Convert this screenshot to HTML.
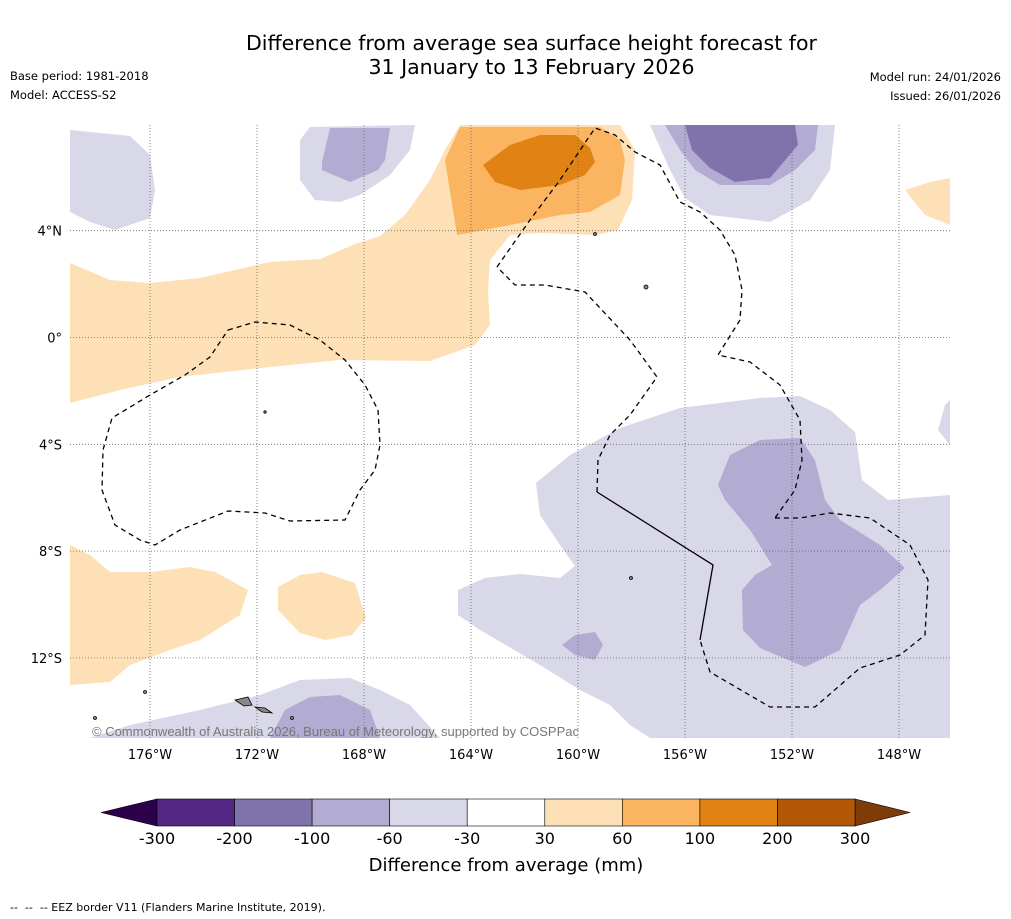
<!DOCTYPE html>
<html><head><meta charset="utf-8">
<style>
html,body{margin:0;padding:0;background:#fff;}
body{width:1011px;height:919px;position:relative;overflow:hidden;font-family:"DejaVu Sans","Liberation Sans",sans-serif;}
.t{position:absolute;color:#000;}
</style></head>
<body>
<div class="t" style="left:0;width:1063px;top:31px;text-align:center;font-size:20.5px;line-height:24px;">Difference from average sea surface height forecast for<br>31 January to 13 February 2026</div>
<div class="t" style="left:10px;top:69px;font-size:11.5px;">Base period: 1981-2018</div>
<div class="t" style="left:10px;top:88px;font-size:11.5px;">Model: ACCESS-S2</div>
<div class="t" style="right:10px;top:70px;font-size:11.5px;text-align:right;">Model run: 24/01/2026</div>
<div class="t" style="right:10px;top:89px;font-size:11.5px;text-align:right;">Issued: 26/01/2026</div>
<div class="t" style="left:10px;top:901px;font-size:11px;">-- &nbsp;-- &nbsp;-- EEZ border V11 (Flanders Marine Institute, 2019).</div>

<svg id="svg" width="1011" height="919" style="position:absolute;left:0;top:0;" xmlns="http://www.w3.org/2000/svg">
<defs><clipPath id="mapclip"><rect x="70" y="125" width="880" height="613"/></clipPath></defs>
<g id="map" clip-path="url(#mapclip)">
<rect x="70" y="125" width="880" height="613" fill="#fff"/>
<g stroke="none">
<polygon fill="#fee0b6" points="70,263 110,280 150,283 200,278 270,262 320,259 355,244 380,236 405,215 430,180 445,150 460,125 620,125 635,150 632,200 618,230 596,235 540,233 510,235 490,260 488,290 490,325 475,345 430,361 340,360 260,368 180,377 120,390 70,403"/>
<polygon fill="#fbb45f" points="457,235 445,160 460,127 600,127 620,140 625,160 620,195 590,212 560,215 510,225"/>
<polygon fill="#e08214" points="483,165 510,145 540,135 575,135 590,148 595,162 585,175 560,185 520,190 495,182"/>
<polygon fill="#fee0b6" points="905,190 930,182 950,178 950,225 925,215"/>
<polygon fill="#fee0b6" points="70,545 90,555 110,572 150,572 190,567 215,572 248,590 240,615 200,640 170,650 130,665 110,682 70,685"/>
<polygon fill="#fee0b6" points="278,587 300,575 322,572 355,583 366,618 352,635 325,640 300,633 278,610"/>
<polygon fill="#d8d8e9" points="70,130 130,136 150,155 155,190 150,218 115,230 90,222 70,212"/>
<polygon fill="#d8d8e9" points="300,140 310,127 415,125 410,150 390,175 360,195 340,202 315,200 300,180"/>
<polygon fill="#b2abd2" points="322,162 330,128 390,128 385,160 378,170 350,182 322,170"/>
<polygon fill="#d8d8e9" points="650,125 835,125 830,170 810,200 770,222 710,215 685,198 670,170"/>
<polygon fill="#b2abd2" points="665,125 818,125 815,150 795,170 770,185 720,185 695,170 680,150"/>
<polygon fill="#8073ac" points="685,125 795,125 798,145 770,178 735,182 710,168 692,150"/>
<polygon fill="#d8d8e9" points="536,483 570,455 620,428 680,408 760,398 800,396 830,410 855,432 862,480 888,500 950,495 950,738 650,738 630,725 610,705 580,690 540,665 480,630 458,615 458,590 485,578 520,574 560,578 575,566 560,545 540,515"/>
<polygon fill="#d8d8e9" points="938,430 945,405 950,400 950,445"/>
<polygon fill="#d8d8e9" points="90,738 130,725 200,710 260,695 300,680 350,678 380,690 410,705 440,738"/>
<polygon fill="#b2abd2" points="270,738 285,710 310,697 340,695 370,710 380,738"/>
<polygon fill="#b2abd2" points="718,485 730,455 760,440 800,438 815,460 825,500 840,520 880,545 905,568 880,590 860,605 840,650 805,667 760,648 743,630 742,590 755,575 772,565 750,530 725,500"/>
<polygon fill="#b2abd2" points="562,645 575,635 595,632 603,645 595,660 575,655"/>
</g>
<g id="grid" stroke="#666" stroke-width="0.8" stroke-dasharray="1,2" fill="none"></g>
<g fill="none" stroke="#000" stroke-width="1.3">
<polyline stroke-dasharray="5,4" points="228,330 255,322 290,325 320,340 345,360 365,385 378,410 380,445 375,470 360,490 345,520 290,521 265,513 228,511 180,530 155,545 140,540 115,525 102,490 103,450 112,418 150,395 185,375 210,357 228,330"/>
<polyline stroke-dasharray="5,4" points="497,267 530,220 560,180 595,128 615,135 635,152 660,165 680,202 700,212 720,230 735,255 742,290 740,320 718,355 750,362 780,385 800,420 802,460 795,490 775,518"/>
<polyline stroke-dasharray="5,4" points="775,518 800,518 830,513 870,518 910,545 928,580 925,635 900,655 860,668 815,707 770,707 710,672 700,640"/>
<polyline stroke-dasharray="5,4" points="597,492 598,460 610,435 630,415 657,377 630,340 585,292 545,285 515,285 497,267"/>
<polyline points="597,492 713,565 700,640"/>
</g>
<g fill="#888" stroke="#000" stroke-width="0.8">
<polygon points="235,700 248,697 252,705 244,706"/>
<polygon points="255,707 265,708 272,713 262,712"/>
<circle cx="145" cy="692" r="1.5"/><circle cx="265" cy="412" r="1.2"/><circle cx="646" cy="287" r="2"/><circle cx="595" cy="234" r="1.5"/><circle cx="631" cy="578" r="1.5"/><circle cx="292" cy="718" r="1.5"/><circle cx="95" cy="718" r="1.5"/>
</g>
<text x="92" y="736" font-size="13" fill="#777" font-family="Liberation Sans, sans-serif">© Commonwealth of Australia 2026, Bureau of Meteorology, supported by COSPPac</text>
</g>
<g id="axes"></g>
<g id="cbar"></g>
</svg>
<script>
var lonTicks=[176,172,168,164,160,156,152,148];
var latTicks=[4,0,-4,-8,-12];
var cbarLevels=[-300,-200,-100,-60,-30,30,60,100,200,300];
var cbarColors=["#552887","#8073ac","#b2abd2","#d8d8e9","#ffffff","#fee0b6","#fbb45f","#e08214","#b35806"];
var cbarUnder="#2d004b", cbarOver="#7f3b08";
var NS="http://www.w3.org/2000/svg";
var FF="DejaVu Sans, Liberation Sans, sans-serif";
function xLon(w){return 150+(176-w)*26.75;}
function yLat(l){return 337.5-l*26.7;}
function mk(tag,attrs,parent){var e=document.createElementNS(NS,tag);for(var k in attrs)e.setAttribute(k,attrs[k]);parent.appendChild(e);return e;}
var grid=document.getElementById('grid'),axes=document.getElementById('axes'),cb=document.getElementById('cbar');
lonTicks.forEach(function(w){
  var x=xLon(w);
  var l=mk('line',{x1:x,x2:x,y1:125,y2:738},grid);
  
  
  var t=mk('text',{x:x,y:759,'text-anchor':'middle','font-size':13,'font-family':FF},axes);
  t.textContent=w+'°W';
  
  
});
latTicks.forEach(function(la){
  var y=yLat(la);
  var l=mk('line',{x1:70,x2:950,y1:y,y2:y},grid);
  
  
  var t=mk('text',{x:62,y:y+5,'text-anchor':'end','font-size':13,'font-family':FF},axes);
  t.textContent=la===0?'0°':(Math.abs(la)+'°'+(la>0?'N':'S'));
  
  
});
var cx0=157,cx1=855,cy0=799,cy1=826,n=cbarColors.length,bw=(cx1-cx0)/n;
var tri1=mk('polygon',{points:(cx0)+','+cy0+' '+cx0+','+cy1+' 101,'+((cy0+cy1)/2),fill:cbarUnder,stroke:'#000','stroke-width':0.6},cb);


var tri2=mk('polygon',{points:cx1+','+cy0+' '+cx1+','+cy1+' 910,'+((cy0+cy1)/2),fill:cbarOver,stroke:'#000','stroke-width':0.6},cb);


cbarColors.forEach(function(c,i){
  var r=mk('rect',{x:cx0+i*bw,y:cy0,width:bw,height:cy1-cy0,fill:c,stroke:'#000','stroke-width':0.6},cb);
  
  
});
cbarLevels.forEach(function(v,i){
  var t=mk('text',{x:cx0+i*bw,y:844,'text-anchor':'middle','font-size':16,'font-family':FF},cb);
  t.textContent=v;
  
  
});
var lab=mk('text',{x:506,y:871,'text-anchor':'middle','font-size':18,'font-family':FF},cb);
lab.textContent='Difference from average (mm)';


</script>
</body></html>
